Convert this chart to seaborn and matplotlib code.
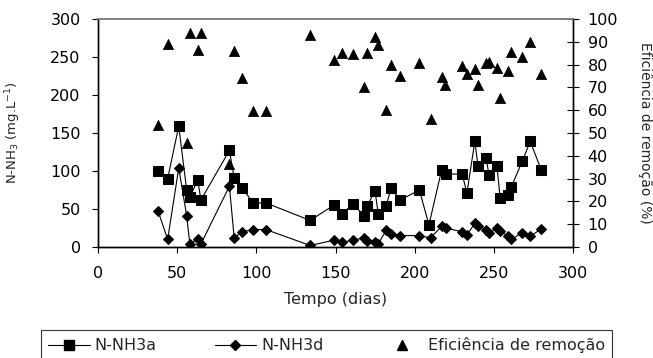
import matplotlib
matplotlib.use("Agg")
import matplotlib.pyplot as plt
import seaborn as sns
from matplotlib.lines import Line2D

# === DADOS ===
dias_a = [38, 44, 51, 56, 58, 63, 65, 83, 86, 91, 98, 106, 134, 149, 154, 161, 168, 170,
          175, 177, 182, 185, 191, 203, 209, 217, 219.5, 230, 233, 238, 240, 245, 247, 252,
          254, 259, 261, 268, 273, 280]
nh3a = [100, 90, 159, 75, 66, 88, 62, 127, 91, 78, 58, 58, 35, 55, 43, 57, 41, 54,
        74, 43, 54, 77, 62, 75, 29, 101, 96, 96, 71, 139, 107, 117, 95, 106,
        64, 68, 79, 113, 139, 101]

dias_d = [38, 44, 51, 56, 58, 63, 65, 83, 86, 91, 98, 106, 134, 149, 154, 161, 168, 170,
          175, 177, 182, 185, 191, 203, 210, 217, 219.5, 230, 233, 238, 240, 245, 247, 252,
          254, 259, 261, 268, 273, 280]
nh3d = [47, 10, 104, 41, 4, 11, 4, 80, 12, 20, 23, 23, 2, 9, 6, 9, 12, 8,
        6, 4, 22, 17, 15, 15, 12, 27, 25, 20, 16, 31, 28, 23, 18, 25,
        21, 14, 10, 19, 14, 24]

dias_e = [38, 44, 56, 58, 63, 65, 83, 86, 91, 98, 106, 134, 149, 154, 161, 168, 170,
          175, 177, 182, 185, 191, 203, 210, 217, 219, 230, 233, 238, 240, 245, 247, 252,
          254, 259, 261, 268, 273, 280]
eficiencia = [53.5, 89, 45.5, 94, 86.5, 94, 36.5, 86, 74, 59.5, 59.5, 93, 82, 85, 84.5, 70, 85,
              92, 88.5, 60, 80, 75, 80.5, 56, 74.5, 71, 79.5, 76, 78, 71, 80.5, 81, 78.5,
              65.5, 77, 85.5, 83.5, 90, 76]

sns.set_style("ticks")
plt.rcParams["font.family"] = ["DejaVu Sans"]
plt.rcParams["font.size"] = 11.5

fig, ax = plt.subplots(figsize=(6.53, 3.58), dpi=100)
fig.subplots_adjust(left=98 / 653, right=573 / 653, top=1 - 19 / 358, bottom=1 - 247 / 358)
ax2 = ax.twinx()

sns.lineplot(x=dias_a, y=nh3a, ax=ax, color="black", linewidth=0.8, marker="s",
             markersize=7, markeredgecolor="black", estimator=None)
sns.lineplot(x=dias_d, y=nh3d, ax=ax, color="black", linewidth=0.8, marker="D",
             markersize=5.5, markeredgecolor="black", estimator=None)
sns.scatterplot(x=dias_e, y=eficiencia, ax=ax2, color="black", marker="^", s=55,
                edgecolor="black", linewidth=0.5)

ax.set_xlim(0, 300)
ax.set_ylim(0, 300)
ax2.set_ylim(0, 100)
ax.set_xticks(range(0, 301, 50))
ax.set_yticks(range(0, 301, 50))
ax2.set_yticks(range(0, 101, 10))

for a in (ax, ax2):
    for side in ("left", "right", "bottom"):
        a.spines[side].set_color("black")
        a.spines[side].set_linewidth(1.0)
    a.spines["top"].set_color("#808080")
    a.spines["top"].set_linewidth(1.2)

ax.tick_params(axis="x", direction="out", length=4.5, width=0.8, pad=9, colors="black")
ax.tick_params(axis="y", direction="out", length=4.5, width=0.8, pad=8, colors="black")
ax2.tick_params(axis="y", direction="inout", length=9, width=0.8, pad=6, colors="black")

ax.set_xlabel("Tempo (dias)", fontsize=11.5, labelpad=8)
ax.set_ylabel("N-NH$_3$ (mg.L$^{-1}$)", fontsize=9.5)
ax.yaxis.set_label_coords(-0.158, 0.5)
ax2.set_ylabel("Eficiência de remoção (%)", fontsize=10, rotation=270, va="center")
ax2.yaxis.set_label_coords(1.152, 0.5)

handles = [
    Line2D([], [], color="black", linewidth=0.8, marker="s", markersize=7),
    Line2D([], [], color="black", linewidth=0.8, marker="D", markersize=5.5),
    Line2D([], [], color="black", linestyle="none", marker="^", markersize=7),
]
labels = ["N-NH3a", "N-NH3d", "Eficiência de remoção"]
leg = fig.legend(handles, labels, loc="upper left", ncol=3, mode="expand",
                 bbox_to_anchor=(41 / 653, 0, 571 / 653, 1 - 330 / 358),
                 borderaxespad=0, fontsize=11.5, handlelength=2.6, handletextpad=0.3,
                 frameon=True, fancybox=False, borderpad=0.45)
leg.get_frame().set_edgecolor("black")
leg.get_frame().set_linewidth(0.8)

fig.savefig("out.png", dpi=100)
